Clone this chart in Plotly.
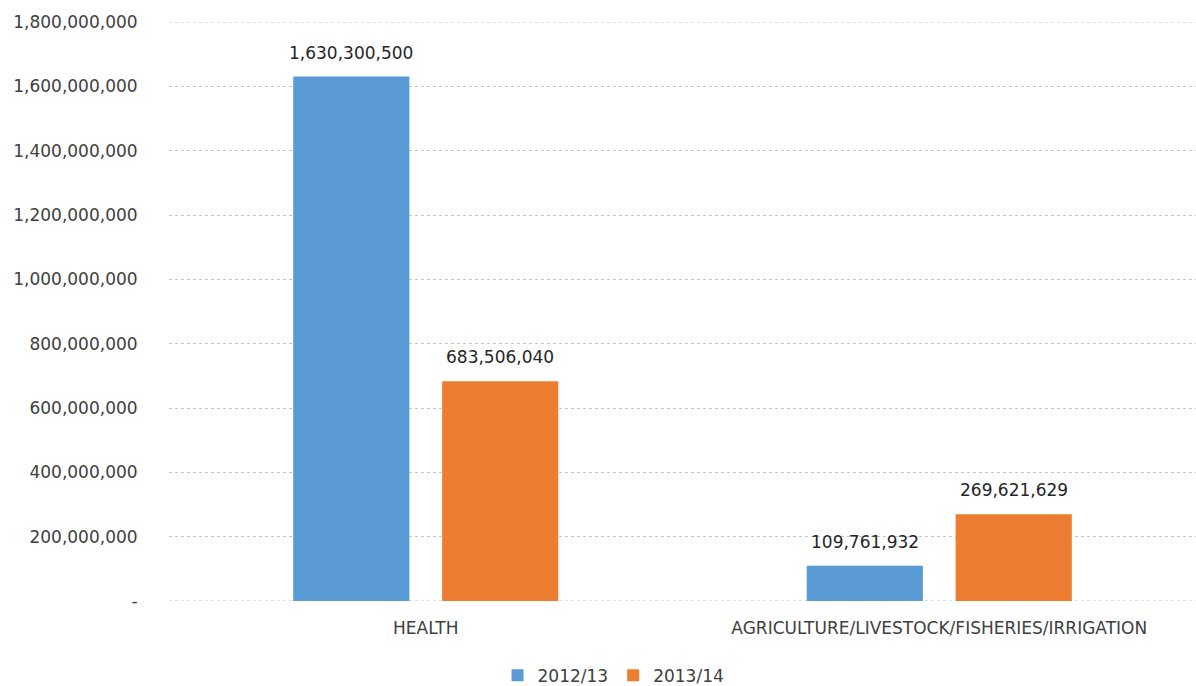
import plotly.graph_objects as go

categories = ["HEALTH", "AGRICULTURE/LIVESTOCK/FISHERIES/IRRIGATION"]
series_names = ["2012/13", "2013/14"]
values_2012 = [1630300500, 109761932]
values_2013 = [683506040, 269621629]
colors = ["#5B9BD5", "#ED7D31"]
tick_vals = [0, 200000000, 400000000, 600000000, 800000000, 1000000000,
             1200000000, 1400000000, 1600000000, 1800000000]
tick_text = ["-"] + [f"{v:,}" for v in tick_vals[1:]]

FONT = "DejaVu Sans"
SIZE = 17
GRID = "#c4c4c4"
fig = go.Figure()
for name, vals, col in zip(series_names, [values_2012, values_2013], colors):
    fig.add_trace(go.Bar(
        x=categories, y=vals, name=name, marker_color=col,
        marker_line_width=0,
    ))

# data labels placed above each bar, offset to the bar's slot in the group
shifts = [-74.5, 74.5]
for vals, dx in zip([values_2012, values_2013], shifts):
    for cat, v in zip(categories, vals):
        fig.add_annotation(x=cat, y=v, text=f"{v:,}", showarrow=False,
                           xshift=dx, yshift=24, yanchor="middle",
                           font=dict(family=FONT, size=SIZE, color="#262626"))

# gridlines at the axis ends (plotly hides those at the edges)
for v in (tick_vals[0], tick_vals[-1]):
    fig.add_shape(type="line", xref="paper", x0=0, x1=1, yref="y", y0=v, y1=v,
                  line=dict(color=GRID, width=1, dash="dot"), layer="below")

fig.update_layout(
    width=1196, height=686,
    margin=dict(l=169, r=0, t=22, b=85),
    paper_bgcolor="white", plot_bgcolor="white",
    barmode="group", bargap=0.42, bargroupgap=0.22,
    font=dict(family=FONT, size=SIZE, color="#404040"),
    legend=dict(orientation="h", xref="container", x=0.513, xanchor="center",
                yref="container", y=0.015, yanchor="middle",
                font=dict(family=FONT, size=SIZE, color="#404040"),
                itemwidth=30, traceorder="normal"),
    showlegend=True,
)
fig.update_yaxes(range=[0, 1800000000], tickvals=tick_vals, ticktext=tick_text,
                 showgrid=True, gridcolor=GRID, griddash="dot", gridwidth=1,
                 zeroline=False, ticks="outside", ticklen=27,
                 tickcolor="rgba(0,0,0,0)", showline=False,
                 tickfont=dict(family=FONT, size=SIZE, color="#404040"))
fig.update_xaxes(showline=False, showgrid=False, ticks="outside", ticklen=12,
                 tickcolor="rgba(0,0,0,0)",
                 tickfont=dict(family=FONT, size=SIZE, color="#404040"))

fig.write_html("out.html")
